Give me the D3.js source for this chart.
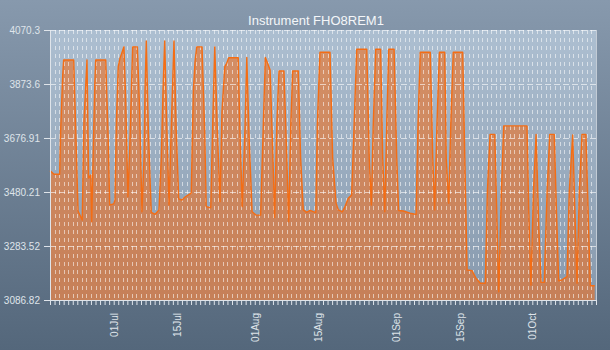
<!DOCTYPE html>
<html>
<head>
<meta charset="utf-8">
<script src="https://cdn.jsdelivr.net/npm/d3@7"></script>
<style>
  html, body { margin: 0; padding: 0; background: #6c7f93; }
  svg { display: block; }
</style>
</head>
<body>
<svg id="chart" width="610" height="350"></svg>
<script>
// ---- data ----
const chartTitle = "Instrument FHO8REM1";
const year = 2014;

// reading timestamps (month-day hour)
const times = [
  "06-17 00","06-17 21","06-19 03","06-19 08","06-19 19","06-20 00","06-22 05","06-22 13","06-23 04","06-24 02",
  "06-24 11","06-25 03","06-25 12","06-25 23","06-26 04","06-26 12","06-26 20","06-27 01","06-29 06","06-29 18",
  "06-30 03","07-01 00","07-01 07","07-01 14","07-02 00","07-02 09","07-03 06","07-03 15","07-04 03","07-04 12",
  "07-04 21","07-05 04","07-06 05","07-06 17","07-07 05","07-07 16","07-07 21","07-08 04","07-08 15","07-09 06",
  "07-10 03","07-10 23","07-11 11","07-11 20","07-12 05","07-12 17","07-13 04","07-13 16","07-14 06","07-14 18",
  "07-15 07","07-16 00","07-16 18","07-18 01","07-18 12","07-18 21","07-19 06","07-20 10","07-21 00","07-21 08",
  "07-22 08","07-22 18","07-23 05","07-23 19","07-24 09","07-24 19","07-25 10","07-25 20","07-26 07","07-28 09",
  "07-28 18","07-29 06","07-29 21","07-30 06","07-30 19","07-31 10","08-01 07","08-02 07","08-02 21","08-03 08",
  "08-03 20","08-04 09","08-04 23","08-05 09","08-05 20","08-06 08","08-07 10","08-08 01","08-08 11","08-08 22",
  "08-09 08","08-10 14","08-11 02","08-11 16","08-12 10","08-13 04","08-14 10","08-14 18","08-15 08","08-17 13",
  "08-18 03","08-18 21","08-19 09","08-20 06","08-20 20","08-21 13","08-22 07","08-22 20","08-23 10","08-25 15",
  "08-26 04","08-26 15","08-27 01","08-27 14","08-28 16","08-29 03","08-29 14","08-30 00","08-30 11","08-31 15",
  "09-01 05","09-01 15","09-02 16","09-04 03","09-05 00","09-05 11","09-05 21","09-06 09","09-08 14","09-09 03",
  "09-09 13","09-10 01","09-10 14","09-11 18","09-12 02","09-12 15","09-13 02","09-13 15","09-15 17","09-16 04",
  "09-16 16","09-17 18","09-18 15","09-19 14","09-20 16","09-21 03","09-21 17","09-22 18","09-23 04","09-23 15",
  "09-24 05","09-24 17","09-29 20","09-30 05","09-30 17","10-01 06","10-01 20","10-02 10","10-02 22","10-03 15",
  "10-04 06","10-04 20","10-05 20","10-06 07","10-06 19","10-07 13","10-08 15","10-09 03","10-09 21","10-10 11",
  "10-10 20","10-11 08","10-11 22","10-12 19","10-13 06","10-13 18","10-14 17"
];

// instrument readings
const values = [
  3558,3545,3545,3700,3906,3961,3961,3773,3411,3378,
  3736,3961,3531,3542,3372,3627,3870,3961,3961,3700,
  3433,3437,3451,3736,3937,3967,4009,3822,3463,3627,
  3846,4009,4009,3773,3408,3603,3846,4030,3700,3406,
  3399,3415,3603,3846,4030,3700,3433,3724,4030,3700,
  3455,3451,3463,3476,3846,3955,4009,4009,3700,3427,
  3423,3724,4009,3700,3445,3773,3937,3949,3969,3969,
  3700,3427,3724,3970,3663,3408,3396,3396,3724,3970,
  3949,3925,3627,3387,3724,3921,3921,3603,3372,3724,
  3921,3921,3603,3415,3406,3413,3405,3724,3989,3989,
  3603,3439,3415,3408,3427,3457,3469,3724,4000,4000,
  3603,3433,3724,4000,4000,3603,3408,3724,4000,4000,
  3603,3413,3411,3403,3400,3399,3724,3989,3989,3603,
  3415,3724,3989,3989,3603,3439,3724,3989,3989,3603,
  3196,3194,3166,3148,3148,3481,3690,3690,3421,3117,
  3481,3721,3721,3421,3141,3481,3690,3360,3151,3151,
  3481,3690,3690,3421,3157,3160,3172,3481,3688,3360,
  3148,3481,3690,3690,3421,3139,3139
];

const yDomain = [3086.82, 4070.3];
const yTicks = [3086.82, 3283.52, 3480.21, 3676.91, 3873.6, 4070.3];
const xLabelDates = ["07-01", "07-15", "08-01", "08-15", "09-01", "09-15", "10-01"];

// ---- setup ----
const W = 610, H = 350;
const plot = { left: 50, right: 596, top: 30, bottom: 300 };

const parseTime = d3.timeParse("%Y-%m-%d %H");
const parseDay = d3.timeParse("%Y-%m-%d");
const points = times.map((t, i) => ({ t: parseTime(`${year}-${t}`), v: values[i] }));
const labelDays = new Set(xLabelDates.map(d => +parseDay(`${year}-${d}`)));

const x = d3.scaleTime()
  .domain([d3.timeDay.floor(points[0].t), d3.timeDay.ceil(points[points.length - 1].t)])
  .range([plot.left, plot.right]);
const y = d3.scaleLinear().domain(yDomain).range([plot.bottom, plot.top]);

const svg = d3.select("#chart");
const defs = svg.append("defs");

const bgGrad = defs.append("linearGradient").attr("id", "bgGrad")
  .attr("x1", 0).attr("y1", 0).attr("x2", 0).attr("y2", 1);
bgGrad.append("stop").attr("offset", "0%").attr("stop-color", "#8799ad");
bgGrad.append("stop").attr("offset", "100%").attr("stop-color", "#54677b");

const plotGrad = defs.append("linearGradient").attr("id", "plotGrad")
  .attr("x1", 0).attr("y1", 0).attr("x2", 0).attr("y2", 1);
plotGrad.append("stop").attr("offset", "0%").attr("stop-color", "#adbfd1");
plotGrad.append("stop").attr("offset", "100%").attr("stop-color", "#8799ad");

svg.append("rect").attr("width", W).attr("height", H).attr("fill", "url(#bgGrad)");

svg.append("text")
  .attr("x", 316).attr("y", 25)
  .attr("text-anchor", "middle")
  .attr("font-family", "Liberation Sans, Arial, sans-serif")
  .attr("font-size", 13)
  .attr("fill", "#f4f6f9")
  .text(chartTitle);

svg.append("rect")
  .attr("x", plot.left).attr("y", plot.top)
  .attr("width", plot.right - plot.left).attr("height", plot.bottom - plot.top)
  .attr("fill", "url(#plotGrad)");

// filled area under the readings
const area = d3.area().x(d => x(d.t)).y0(plot.bottom).y1(d => y(d.v));
svg.append("path").datum(points)
  .attr("d", area)
  .attr("fill", "#f07020")
  .attr("fill-opacity", 0.6);

// daily dashed grid
const days = d3.timeDay.range(x.domain()[0], d3.timeDay.offset(x.domain()[1], 1));
svg.append("g").selectAll("line").data(days).join("line")
  .attr("x1", d => Math.round(x(d)) + 0.5).attr("x2", d => Math.round(x(d)) + 0.5)
  .attr("y1", plot.top).attr("y2", plot.bottom)
  .attr("stroke", "#ffffff").attr("stroke-opacity", 0.55)
  .attr("stroke-dasharray", "4,4");

// value grid
svg.append("g").selectAll("line").data(yTicks.slice(1)).join("line")
  .attr("x1", plot.left).attr("x2", plot.right)
  .attr("y1", d => Math.round(y(d)) + 0.5).attr("y2", d => Math.round(y(d)) + 0.5)
  .attr("stroke", "#ffffff").attr("stroke-opacity", 0.6)
  .attr("stroke-dasharray", "6,3");

// readings line
const line = d3.line().x(d => x(d.t)).y(d => y(d.v));
svg.append("path").datum(points)
  .attr("d", line)
  .attr("fill", "none")
  .attr("stroke", "#f46d14")
  .attr("stroke-width", 1.4)
  .attr("stroke-linejoin", "round");

// right frame edge
svg.append("line")
  .attr("x1", plot.right + 0.5).attr("x2", plot.right + 0.5)
  .attr("y1", plot.top).attr("y2", plot.bottom)
  .attr("stroke", "#c3ccd6").attr("stroke-width", 1);

// axes
const axisColor = "#dfe4ea";
const yAxis = d3.axisLeft(y).tickValues(yTicks).tickFormat(d => d).tickSize(6).tickSizeOuter(0).tickPadding(4);
const gy = svg.append("g").attr("transform", `translate(${plot.left},0)`).call(yAxis);

const xAxis = d3.axisBottom(x).tickValues(days).tickSize(5).tickSizeOuter(0)
  .tickFormat(d => labelDays.has(+d) ? d3.timeFormat("%d%b")(d) : "");
const gx = svg.append("g").attr("transform", `translate(0,${plot.bottom})`).call(xAxis);
gx.selectAll("text")
  .attr("transform", "rotate(-90)")
  .attr("text-anchor", "end")
  .attr("x", -13).attr("y", 0).attr("dy", "0.35em");

[gx, gy].forEach(g => {
  g.select(".domain").attr("stroke", axisColor);
  g.selectAll(".tick line").attr("stroke", axisColor);
  g.selectAll("text")
    .attr("fill", axisColor)
    .attr("font-family", "Liberation Sans, Arial, sans-serif")
    .attr("font-size", 10);
});
</script>
</body>
</html>
